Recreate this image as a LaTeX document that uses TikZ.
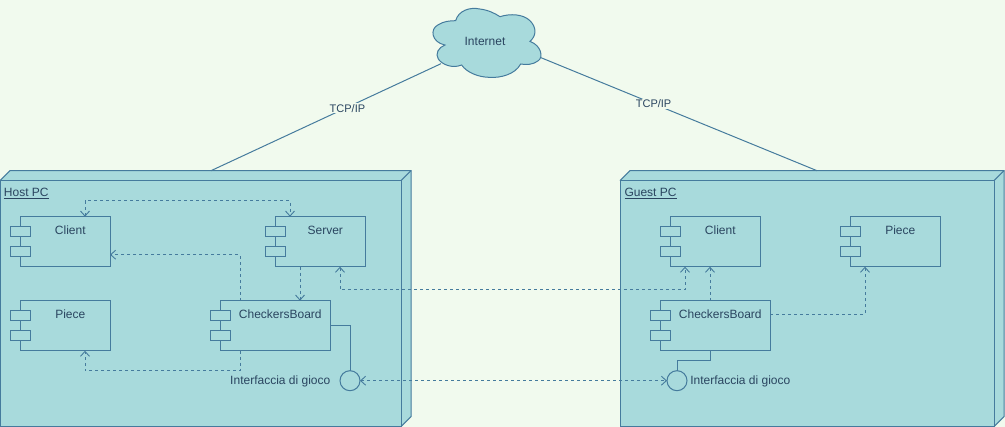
\documentclass[tikz,border=0pt]{standalone}
\usepackage{fontspec}
\setmainfont{Liberation Sans}
\usetikzlibrary{arrows.meta}
\definecolor{bgc}{HTML}{F1FAEE}
\definecolor{fillc}{HTML}{A8DADC}
\definecolor{linec}{HTML}{457B9D}
\definecolor{textc}{HTML}{2A4560}
\tikzset{
  base/.style={draw=linec,line width=1pt,fill=fillc,inner sep=0pt,outer sep=0pt},
  front/.style={base,anchor=north west},
  comp/.style={base,anchor=north west,minimum height=50pt},
  port/.style={base,anchor=north west,minimum width=20pt,minimum height=10pt},
  txt/.style={text=textc,font=\fontsize{12}{14}\selectfont,inner sep=0pt,outer sep=0pt},
  iface/.style={base,circle,minimum size=20pt},
  wire/.style={draw=linec,line width=1pt},
  dep/.style={wire,dash pattern=on 3pt off 3pt,-{Straight Barb[length=5pt,width=9pt,line width=.9pt]}},
  depboth/.style={wire,dash pattern=on 3pt off 3pt,{Straight Barb[length=5pt,width=9pt,line width=.9pt]}-{Straight Barb[length=5pt,width=9pt,line width=.9pt]}},
  tag/.style={txt,font=\fontsize{11}{13}\selectfont,fill=bgc,inner xsep=1pt,inner ysep=1pt}
}
\newcommand{\compo}[6]{% name, x, y, width, label, label x offset from left edge
  \node[comp,minimum width=#4pt] (#1) at (#2,#3) {};
  \node[port] (#1p) at (#2-10,#3+10) {};
  \node[port] (#1q) at (#2-10,#3+30) {};
  \node[txt] (#1t) at (#2+#6+.3,#3+13.3) {#5};
}
\newcommand{\nodebox}[5]{% name, x, y, width, height
  \fill[fillc] (#2,#3) -- (#2+10,#3-10) -- (#2+#4+10,#3-10) -- (#2+#4+10,#3+#5-10) -- (#2+#4,#3+#5) -- cycle;
  \node[front,minimum width=#4pt,minimum height=#5pt] (#1) at (#2,#3) {};
  \draw[wire,line join=miter] (#1.north west) -- ++(10,-10) -- ++(#4,0) -- ++(0,#5) -- (#1.south east);
  \draw[wire] (#1.north east) -- ++(10,-10);
}
\begin{document}
\begin{tikzpicture}[x=1pt,y=-1pt]
\useasboundingbox (0,-0.7) rectangle (1005,426.3);
\fill[bgc] (0,-0.7) rectangle (1005,426.3);

% boxes
\nodebox{host}{0}{180}{401}{246}
\nodebox{guest}{620}{180}{374}{246}
\node[txt,anchor=base west] (hostt) at (4,195.5) {\underline{Host PC}};
\node[txt,anchor=base west] (guestt) at (624.5,195.5) {\underline{Guest PC}};

% cloud
\begin{scope}[shift={(310,0)},x=.3333pt,y=-.3333pt]
\draw[base] (405,133)
  .. controls (365,125) and (358,85) .. (385,72)
  .. controls (400,62) and (420,60) .. (437,60)
  .. controls (445,30) and (480,18) .. (510,25)
  .. controls (535,28) and (555,38) .. (570,48)
  .. controls (600,38) and (640,40) .. (660,60)
  .. controls (680,80) and (680,105) .. (660,122)
  .. controls (695,135) and (700,170) .. (685,180)
  .. controls (670,192) and (650,193) .. (632,190)
  .. controls (615,222) and (570,232) .. (540,230)
  .. controls (505,230) and (470,215) .. (455,193)
  .. controls (425,205) and (395,190) .. (385,175)
  .. controls (375,160) and (385,140) .. (405,133) -- cycle;
\end{scope}
\node[txt] (inet) at (485,40.5) {Internet};
\coordinate (cloudL) at (441,63);
\coordinate (cloudR) at (541,57);

% components host
\compo{hc}{20}{216}{90}{Client}{50}
\compo{hs}{275}{216}{90}{Server}{50}
\compo{hp}{20}{300}{90}{Piece}{50}
\compo{hb}{220}{300}{110}{CheckersBoard}{60}
% components guest
\compo{gc}{670}{216}{90}{Client}{50}
\compo{gp}{850}{216}{90}{Piece}{50}
\compo{gb}{660}{300}{110}{CheckersBoard}{60}

% interfaces
\node[iface] (hi) at (350,380) {};
\node[iface] (gi) at (677,380) {};
\node[txt,anchor=east] (hit) at (330.3,380.6) {Interfaccia di gioco};
\node[txt,anchor=west] (git) at (690.3,380.6) {Interfaccia di gioco};

% internet links
\draw[wire] (cloudL) -- node[tag,pos=.409,xshift=.5pt,yshift=-.7pt] (tl) {TCP/IP} ([xshift=211pt,yshift=10pt]host.north west);
\draw[wire] (cloudR) -- node[tag,pos=.406,xshift=.5pt] (tr) {TCP/IP} ([xshift=197pt,yshift=10pt]guest.north west);

% dependencies host
\draw[depboth] ([xshift=65pt]hc.north west) -- ++(0,-16) -| ([xshift=15pt]hs.north west);
\draw[dep] ([xshift=20pt]hb.north west) |- ([yshift=12pt]hc.south east);
\draw[dep] ([xshift=25pt]hs.south west) -- ([xshift=80pt]hb.north west);
\draw[dep] ([xshift=20pt]hb.south west) -- ++(0,20) -| ([xshift=65pt]hp.south west);
\draw[wire] ([yshift=-25pt]hb.north east) -| (hi.north);

% dependencies across and guest
\draw[depboth] ([xshift=65pt]hs.south west) -- ++(0,23) -| ([xshift=15pt]gc.south west);
\draw[depboth] (hi.east) -- (gi.west);
\draw[dep] ([xshift=50pt]gb.north west) -- ([xshift=40pt]gc.south west);
\draw[dep] ([yshift=-13.5pt]gb.north east) -| ([xshift=15pt]gp.south west);
\draw[wire] ([xshift=50pt]gb.south west) -- ++(0,10) -| (gi.north);
\end{tikzpicture}
\end{document}
